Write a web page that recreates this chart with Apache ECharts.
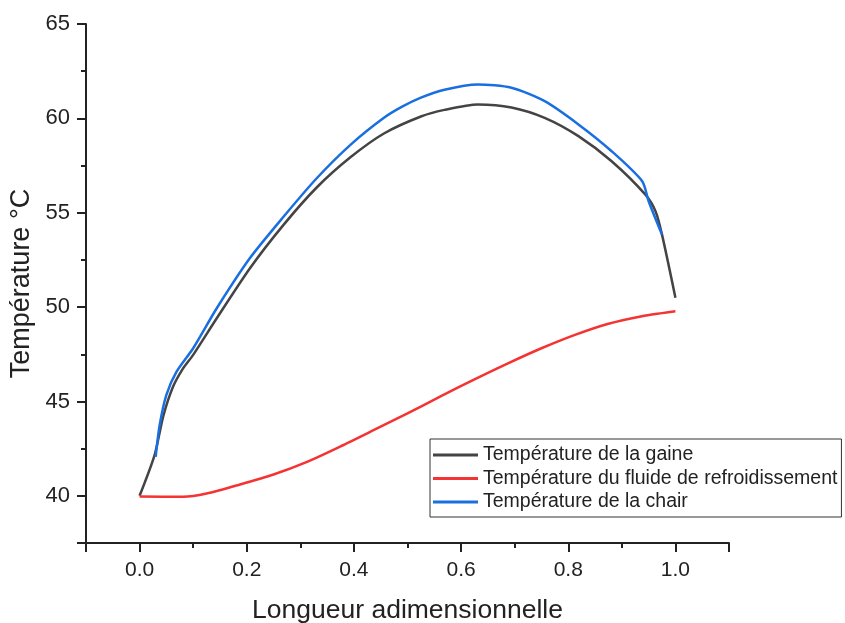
<!DOCTYPE html>
<html>
<head>
<meta charset="utf-8">
<script src="https://cdn.jsdelivr.net/npm/echarts@6/dist/echarts.min.js"></script>
<style>
  html, body { margin: 0; padding: 0; background: #fff; }
  #chart { width: 845px; height: 623px; }
</style>
</head>
<body>
<div id="chart"></div>
<script>
const seriesNames = ["Température de la gaine", "Température du fluide de refroidissement", "Température de la chair"]

// gaine (black)
const gaineX = [0, 0.028, 0.044, 0.062, 0.08, 0.1, 0.144, 0.206, 0.269, 0.331, 0.394, 0.456, 0.525, 0.569, 0.631, 0.694, 0.756, 0.819, 0.881, 0.944, 0.963, 0.975, 1.0]
const gaineY = [40, 42.16, 44.2, 45.75, 46.7, 47.47, 49.41, 52.06, 54.37, 56.35, 57.95, 59.2, 60.1, 60.45, 60.74, 60.58, 60.03, 59.06, 57.73, 55.96, 55.07, 53.84, 50.5]

// fluide de refroidissement (red)
const fluideX = [0, 0.081, 0.125, 0.1875, 0.25, 0.3125, 0.375, 0.4375, 0.5, 0.5625, 0.625, 0.6875, 0.75, 0.8125, 0.875, 0.9375, 0.975, 1.0]
const fluideY = [39.97, 39.95, 40.12, 40.6, 41.13, 41.8, 42.62, 43.49, 44.37, 45.28, 46.17, 47.02, 47.82, 48.53, 49.12, 49.52, 49.68, 49.78]

// chair (blue)
const chairX = [0.03, 0.0375, 0.05, 0.069, 0.1, 0.144, 0.206, 0.269, 0.331, 0.394, 0.456, 0.49, 0.525, 0.569, 0.631, 0.694, 0.756, 0.819, 0.881, 0.938, 0.95, 0.975]
const chairY = [42.07, 43.75, 45.35, 46.58, 47.82, 49.94, 52.6, 54.8, 56.84, 58.61, 60.03, 60.62, 61.1, 61.52, 61.8, 61.62, 60.91, 59.68, 58.26, 56.67, 55.61, 53.84]

const xMin = -0.1, xMax = 1.1
const yMin = 37.5, yMax = 65

const zip = (xs, ys) => xs.map((x, i) => [x, ys[i]])

const chart = echarts.init(document.getElementById("chart"), null, { renderer: "canvas" })

const font = "Liberation Sans, Arial, sans-serif"
const axisColor = "#222"
const lineOpts = { type: "line", xAxisIndex: 0, yAxisIndex: 0, smooth: 0.25, showSymbol: false, symbol: "none" }

chart.setOption({
  animation: false,
  grid: { left: 86, right: 116, top: 24, bottom: 80, containLabel: false, outerBoundsMode: "none" },
  legend: {
    orient: "vertical",
    left: 430,
    top: 439,
    padding: [6, 4, 5, 3],
    itemGap: 3.5,
    itemWidth: 45,
    itemHeight: 3,
    icon: "rect",
    borderColor: "#333",
    borderWidth: 1,
    borderRadius: 0,
    textStyle: { fontFamily: font, fontSize: 19.5, color: "#222", lineHeight: 20 },
    data: seriesNames
  },
  xAxis: [
    {
      type: "value", position: "bottom", min: xMin, max: xMax, interval: 0.1,
      axisLine: { show: true, onZero: false, lineStyle: { color: axisColor, width: 2 } },
      axisTick: { show: true, length: 5, lineStyle: { color: axisColor, width: 2 } },
      axisLabel: { show: false },
      splitLine: { show: false }
    },
    {
      type: "value", position: "bottom", offset: 0, min: xMin, max: xMax, splitNumber: 6,
      axisLine: { show: false, onZero: false },
      axisTick: { show: true, length: 9, lineStyle: { color: axisColor, width: 2 } },
      axisLabel: {
        margin: 17, fontFamily: font, fontSize: 21, color: "#222",
        formatter: v => (v > -0.01 && v < 1.01 ? v.toFixed(1) : "")
      },
      splitLine: { show: false },
      name: "Longueur adimensionnelle",
      nameLocation: "middle",
      nameGap: 54,
      nameTextStyle: { fontFamily: font, fontSize: 26.5, color: "#222" }
    }
  ],
  yAxis: [
    {
      type: "value", position: "left", min: yMin, max: yMax, interval: 2.5,
      axisLine: { show: true, onZero: false, lineStyle: { color: axisColor, width: 2 } },
      axisTick: { show: true, length: 5, lineStyle: { color: axisColor, width: 2 } },
      axisLabel: { show: false },
      splitLine: { show: false }
    },
    {
      type: "value", position: "left", offset: 0, min: yMin, max: yMax, splitNumber: 5,
      axisLine: { show: false, onZero: false },
      axisTick: { show: true, length: 9, lineStyle: { color: axisColor, width: 2 } },
      axisLabel: {
        margin: 16, fontFamily: font, fontSize: 22, color: "#222",
        formatter: v => (v % 5 === 0 ? String(v) : "")
      },
      splitLine: { show: false },
      name: "Température °C",
      nameLocation: "middle",
      nameRotate: 90,
      nameGap: 39,
      nameTextStyle: { fontFamily: font, fontSize: 27, color: "#222" }
    }
  ],
  series: [
    { ...lineOpts, name: seriesNames[0], lineStyle: { width: 2.5, color: "#444444" }, itemStyle: { color: "#444444" }, data: zip(gaineX, gaineY) },
    { ...lineOpts, name: seriesNames[1], lineStyle: { width: 2.5, color: "#f43333" }, itemStyle: { color: "#f43333" }, data: zip(fluideX, fluideY) },
    { ...lineOpts, name: seriesNames[2], lineStyle: { width: 2.5, color: "#1a6fe0" }, itemStyle: { color: "#1a6fe0" }, data: zip(chairX, chairY) }
  ]
})
</script>
</body>
</html>
